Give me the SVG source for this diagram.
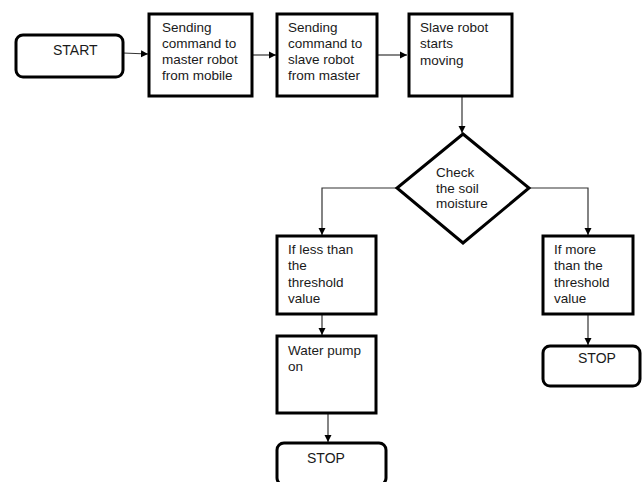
<svg xmlns="http://www.w3.org/2000/svg" width="643" height="482" viewBox="0 0 643 482">
<defs>
<marker id="arr" markerWidth="8" markerHeight="8" refX="7" refY="4" orient="auto" markerUnits="userSpaceOnUse">
<path d="M0,0.5 L7,4 L0,7.5 z" fill="#000"/>
</marker>
<style>
.box{fill:#fff;stroke:#000;stroke-width:3}
.term{fill:#fff;stroke:#000;stroke-width:3}
.t{font-family:"Liberation Sans",Arial,sans-serif;font-size:13.5px;fill:#1a1a1a}
.big{font-size:14px}
.c{fill:none;stroke:#333;stroke-width:1.2}
</style>
</defs>
<rect width="643" height="482" fill="#fff"/>
<g id="connectors">
<line class="c" x1="123" y1="53" x2="148" y2="54" marker-end="url(#arr)"/>
<line class="c" x1="252" y1="55" x2="276" y2="55" marker-end="url(#arr)"/>
<line class="c" x1="377" y1="55" x2="407" y2="55" marker-end="url(#arr)"/>
<line class="c" x1="462" y1="97" x2="462" y2="133" marker-end="url(#arr)"/>
<polyline class="c" points="397,188 322,188 322,235" marker-end="url(#arr)"/>
<polyline class="c" points="529,188 588,188 588,235" marker-end="url(#arr)"/>
<line class="c" x1="322" y1="314" x2="322" y2="335" marker-end="url(#arr)"/>
<line class="c" x1="328" y1="413" x2="328" y2="442" marker-end="url(#arr)"/>
<line class="c" x1="588" y1="314" x2="588" y2="345" marker-end="url(#arr)"/>
</g>
<g id="start">
<rect class="term" x="16" y="35" width="107" height="42" rx="7"/>
<text class="t big" x="53" y="55">START</text>
</g>
<g id="box1">
<rect class="box" x="149" y="14" width="103" height="82"/>
<text class="t" x="162" y="32">Sending</text>
<text class="t" x="162" y="48">command to</text>
<text class="t" x="162" y="64">master robot</text>
<text class="t" x="162" y="80">from mobile</text>
</g>
<g id="box2">
<rect class="box" x="277" y="14" width="100" height="82"/>
<text class="t" x="288" y="32">Sending</text>
<text class="t" x="288" y="48">command to</text>
<text class="t" x="288" y="64">slave robot</text>
<text class="t" x="288" y="80">from master</text>
</g>
<g id="box3">
<rect class="box" x="409" y="14" width="103" height="82"/>
<text class="t" x="420" y="32">Slave robot</text>
<text class="t" x="420" y="48">starts</text>
<text class="t" x="420" y="65">moving</text>
</g>
<g id="decision">
<polygon class="box" points="463,134 529,188 463,243 397,188"/>
<text class="t" x="436" y="177">Check</text>
<text class="t" x="436" y="193">the soil</text>
<text class="t" x="436" y="208">moisture</text>
</g>
<g id="less">
<rect class="box" x="277" y="236" width="99" height="78"/>
<text class="t" x="288" y="254">If less than</text>
<text class="t" x="288" y="270">the</text>
<text class="t" x="288" y="287">threshold</text>
<text class="t" x="288" y="303">value</text>
</g>
<g id="pump">
<rect class="box" x="277" y="336" width="99" height="77"/>
<text class="t" x="288" y="355">Water pump</text>
<text class="t" x="288" y="371">on</text>
</g>
<g id="stop1">
<rect class="term" x="277" y="443" width="109" height="42" rx="7"/>
<text class="t big" x="307" y="463">STOP</text>
</g>
<g id="more">
<rect class="box" x="543" y="236" width="90" height="78"/>
<text class="t" x="554" y="254">If more</text>
<text class="t" x="554" y="270">than the</text>
<text class="t" x="554" y="287">threshold</text>
<text class="t" x="554" y="303">value</text>
</g>
<g id="stop2">
<rect class="term" x="543" y="346" width="97" height="40" rx="7"/>
<text class="t big" x="578" y="363">STOP</text>
</g>
</svg>
